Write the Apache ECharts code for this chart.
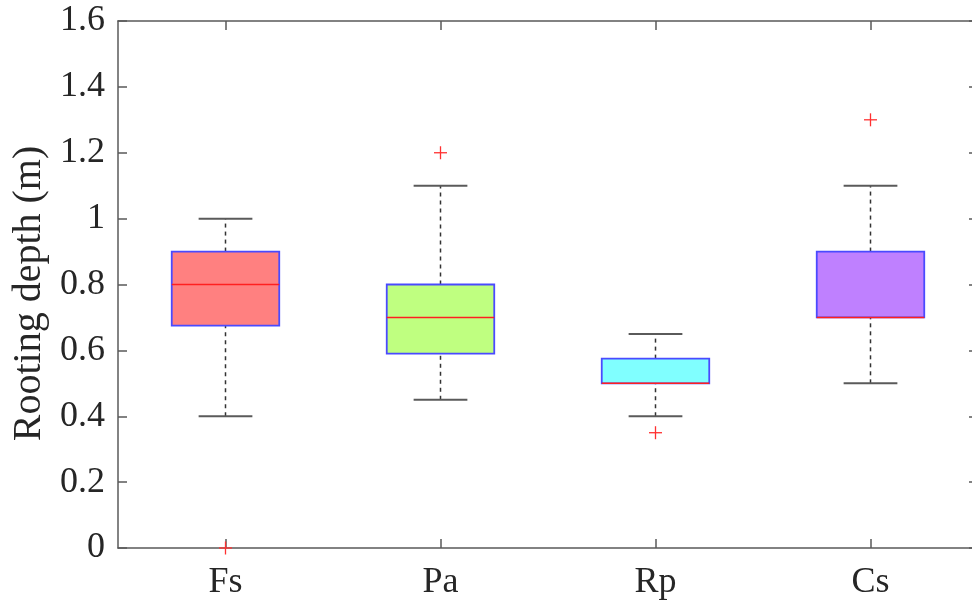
<!DOCTYPE html>
<html>
<head>
<meta charset="utf-8">
<script src="https://cdn.jsdelivr.net/npm/echarts@6/dist/echarts.min.js"></script>
<style>html,body{margin:0;padding:0;background:#fff;}#chart{width:972px;height:612px;}</style>
</head>
<body>
<div id="chart"></div>
<script>
const categories = ['Fs', 'Pa', 'Rp', 'Cs'];
const whiskerLow = [0.4, 0.45, 0.4, 0.5];
const q1 = [0.675, 0.59, 0.5, 0.7];
const median = [0.8, 0.7, 0.5, 0.7];
const q3 = [0.9, 0.8, 0.575, 0.9];
const whiskerHigh = [1.0, 1.1, 0.65, 1.1];
const boxColors = ['#ff8080', '#bfff80', '#80ffff', '#bf80ff'];
const outlierCategory = [0, 1, 2, 3];
const outlierValue = [0, 1.2, 0.35, 1.3];
const yTicks = { min: 0, max: 1.6, interval: 0.2 };

const FONT = "'Liberation Serif', 'Times New Roman', serif";
const AXIS_COLOR = '#5a5a5a';
const TEXT_COLOR = '#262626';

const boxData = categories.map((c, i) => [i, whiskerLow[i], q1[i], median[i], q3[i], whiskerHigh[i]]);
const outlierData = outlierCategory.map((c, i) => [c, outlierValue[i]]);

function renderBox(params, api) {
  const i = api.value(0);
  const lo = api.coord([i, api.value(1)]);
  const b1 = api.coord([i, api.value(2)]);
  const md = api.coord([i, api.value(3)]);
  const b3 = api.coord([i, api.value(4)]);
  const hi = api.coord([i, api.value(5)]);
  const band = api.size([1, 0])[0];
  const bw = band * 0.5;
  const cw = band * 0.25;
  const x = lo[0];
  const dash = { stroke: '#333', lineWidth: 1.5, lineDash: [4, 4] };
  const cap = { stroke: AXIS_COLOR, lineWidth: 2 };
  return {
    type: 'group',
    children: [
      { type: 'line', shape: { x1: x, y1: b3[1], x2: x, y2: hi[1] }, style: dash },
      { type: 'line', shape: { x1: x, y1: lo[1], x2: x, y2: b1[1] }, style: dash },
      { type: 'line', shape: { x1: x - cw / 2, y1: hi[1], x2: x + cw / 2, y2: hi[1] }, style: cap },
      { type: 'line', shape: { x1: x - cw / 2, y1: lo[1], x2: x + cw / 2, y2: lo[1] }, style: cap },
      { type: 'rect', shape: { x: x - bw / 2, y: b3[1], width: bw, height: b1[1] - b3[1] },
        style: { fill: boxColors[i], stroke: '#4a4aff', lineWidth: 1.8 } },
      { type: 'line', shape: { x1: x - bw / 2, y1: md[1], x2: x + bw / 2, y2: md[1] },
        style: { stroke: '#ff2020', lineWidth: 1.5 } }
    ]
  };
}

function renderOutlier(params, api) {
  const p = api.coord([api.value(0), api.value(1)]);
  const h = 6.5;
  const st = { stroke: '#ff3030', lineWidth: 1.3 };
  return {
    type: 'group',
    children: [
      { type: 'line', shape: { x1: p[0] - h, y1: p[1], x2: p[0] + h, y2: p[1] }, style: st },
      { type: 'line', shape: { x1: p[0], y1: p[1] - h, x2: p[0], y2: p[1] + h }, style: st }
    ]
  };
}

const chart = echarts.init(document.getElementById('chart'), null, { renderer: 'canvas' });
const axisLine = { show: true, onZero: false, lineStyle: { color: AXIS_COLOR, width: 1.5 } };
const tick = { show: true, inside: true, length: 9, lineStyle: { color: AXIS_COLOR, width: 1.5 } };
chart.setOption({
  animation: false,
  backgroundColor: '#fff',
  grid: { left: 118, top: 21, width: 860, height: 527, containLabel: false, outerBoundsMode: 'none' },
  xAxis: [
    { type: 'category', data: categories, position: 'bottom', boundaryGap: true,
      axisLine: axisLine, axisTick: Object.assign({ alignWithLabel: true }, tick),
      axisLabel: { color: TEXT_COLOR, fontFamily: FONT, fontSize: 36, margin: 17 },
      splitLine: { show: false } },
    { type: 'category', data: categories, position: 'top', boundaryGap: true,
      axisLine: axisLine, axisTick: Object.assign({ alignWithLabel: true }, tick),
      axisLabel: { show: false }, splitLine: { show: false } }
  ],
  yAxis: [
    { type: 'value', min: yTicks.min, max: yTicks.max, interval: yTicks.interval, position: 'left',
      name: 'Rooting depth (m)', nameLocation: 'middle', nameGap: 59,
      nameTextStyle: { color: TEXT_COLOR, fontFamily: FONT, fontSize: 40, padding: [0, 18, 0, 0] },
      axisLine: axisLine, axisTick: tick,
      axisLabel: { color: TEXT_COLOR, fontFamily: FONT, fontSize: 36, margin: 13 },
      splitLine: { show: false } },
    { type: 'value', min: yTicks.min, max: yTicks.max, interval: yTicks.interval, position: 'right',
      axisLine: axisLine, axisTick: tick, axisLabel: { show: false }, splitLine: { show: false } }
  ],
  series: [
    { type: 'custom', xAxisIndex: 0, yAxisIndex: 0, renderItem: renderBox,
      encode: { x: 0, y: [1, 2, 3, 4, 5] }, data: boxData, z: 3 },
    { type: 'custom', xAxisIndex: 0, yAxisIndex: 0, renderItem: renderOutlier,
      encode: { x: 0, y: 1 }, data: outlierData, z: 4 }
  ]
});
</script>
</body>
</html>
